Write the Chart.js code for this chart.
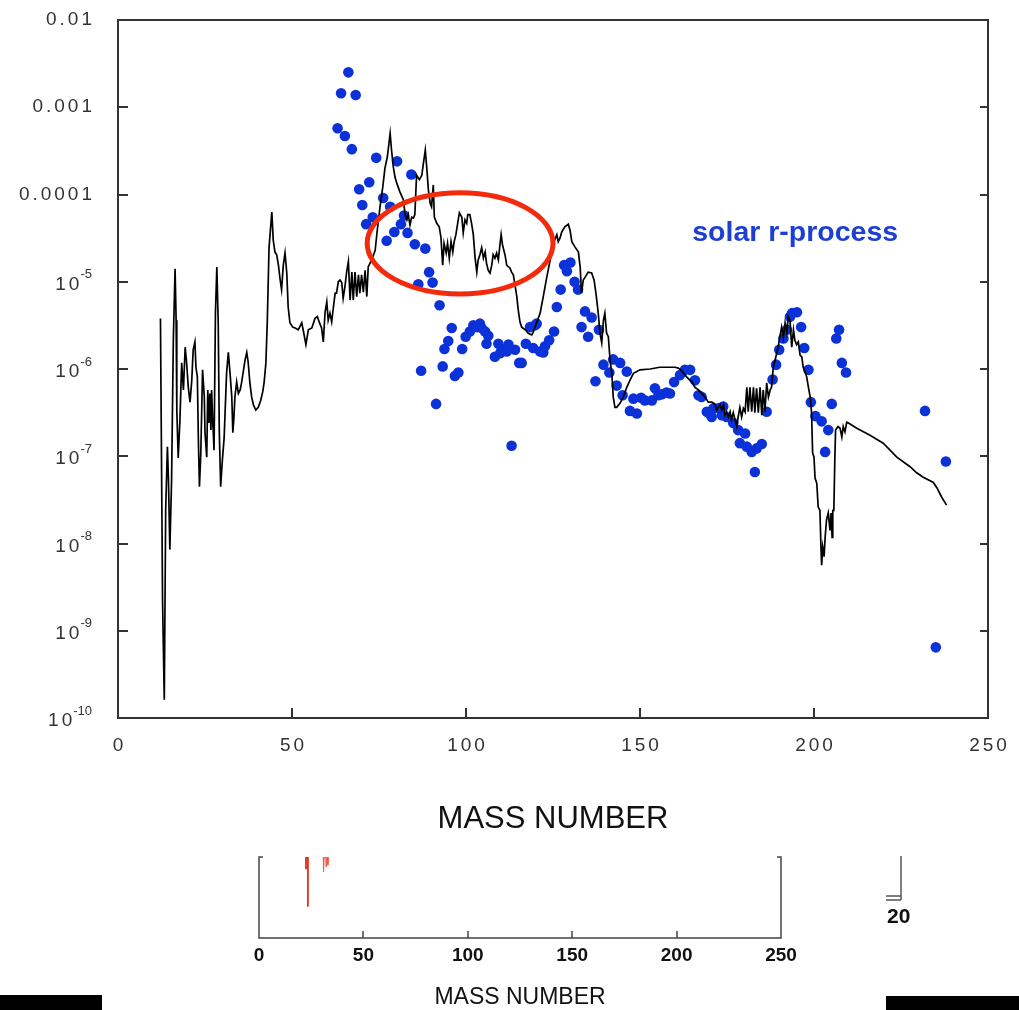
<!DOCTYPE html>
<html>
<head>
<meta charset="utf-8">
<script src="https://cdn.jsdelivr.net/npm/chart.js@4.4.1/dist/chart.umd.min.js"></script>
<style>
  body { margin:0; background:#fff; width:1019px; height:1010px; overflow:hidden; position:relative; }
  canvas { position:absolute; left:0; }
</style>
</head>
<body>
<canvas id="main" width="1019" height="840" style="top:0"></canvas>
<canvas id="mini" width="1019" height="170" style="top:840px"></canvas>
<script>
// ---------- DATA ----------
const yTickValues = [1e-2, 1e-3, 1e-4, 1e-5, 1e-6, 1e-7, 1e-8, 1e-9, 1e-10];
const yTickBase   = ['0.01', '0.001', '0.0001', '10', '10', '10', '10', '10', '10'];
const yTickExp    = ['', '', '', '-5', '-6', '-7', '-8', '-9', '-10'];
const xTickValues = [0, 50, 100, 150, 200, 250];
const xTitle = 'MASS NUMBER';
const seriesLabel = 'solar r-process';

// model abundance curve: [mass number, log10 abundance]
const lineModel = [
[12.2,-5.42],[12.4,-6.49],[12.8,-8.65],[13.3,-9.79],[13.7,-7.62],[14.2,-6.89],[14.5,-7.27],[14.9,-8.07],[15.4,-7.27],[15.9,-5.67],
[16.4,-4.85],[16.7,-5.44],[16.9,-6.47],[17.3,-7.02],[17.8,-6.58],[18.3,-5.93],[18.8,-6.24],[19.3,-5.75],[19.7,-5.92],[20.2,-6.21],
[20.7,-6.38],[21.2,-6.13],[21.6,-5.78],[22.1,-5.69],[22.4,-5.98],[22.8,-6.09],[23.1,-6.81],[23.4,-7.35],[23.8,-6.96],[24.3,-6.01],
[24.8,-6.32],[25.0,-6.73],[25.5,-7.01],[25.8,-6.24],[26.1,-6.62],[26.4,-6.28],[26.7,-6.70],[26.9,-6.24],[27.2,-6.58],[27.6,-6.93],
[28.0,-5.36],[28.4,-4.83],[28.8,-5.47],[29.1,-6.70],[29.5,-7.35],[30.0,-7.04],[30.5,-6.79],[30.8,-6.47],[31.2,-6.05],[31.7,-5.81],
[32.2,-6.05],[32.7,-6.32],[33.0,-6.73],[33.3,-6.56],[33.6,-6.32],[34.1,-6.15],[34.6,-6.28],[35.1,-6.24],[35.5,-6.16],[36.0,-6.03],
[36.5,-5.90],[37.0,-5.81],[37.4,-5.92],[37.9,-6.16],[38.4,-6.32],[38.9,-6.41],[39.6,-6.47],[40.3,-6.44],[41.0,-6.36],[41.6,-6.26],
[42.0,-6.15],[42.5,-5.93],[42.9,-5.46],[43.4,-4.61],[44.2,-4.20],[44.6,-4.52],[45.1,-4.66],[45.6,-4.69],[46.1,-4.81],[46.6,-4.98],
[47.0,-5.09],[47.5,-4.81],[48.0,-4.67],[48.5,-4.90],[48.9,-5.29],[49.4,-5.47],[50.2,-5.52],[50.9,-5.53],[51.8,-5.55],[52.8,-5.47],
[53.2,-5.55],[54.0,-5.72],[54.7,-5.55],[55.7,-5.53],[56.6,-5.42],[57.3,-5.40],[57.8,-5.46],[58.5,-5.53],[59.0,-5.69],[59.5,-5.35],
[60.0,-5.23],[60.4,-5.44],[60.9,-5.36],[61.4,-5.46],[61.9,-5.29],[62.4,-5.13],[62.8,-5.13],[63.3,-5.00],[63.8,-4.98],[64.3,-5.01],
[64.7,-5.19],[65.2,-5.06],[65.7,-4.89],[66.2,-4.77],[66.7,-5.21],[67.2,-4.89],[67.6,-5.21],[68.1,-4.89],[68.6,-5.17],[69.1,-4.92],
[69.5,-5.13],[70.0,-4.92],[70.5,-5.12],[71.0,-4.87],[71.5,-5.17],[71.9,-4.83],[72.4,-4.79],[72.9,-4.75],[73.9,-4.64],[74.5,-4.41],
[75.3,-4.14],[76.1,-3.91],[76.7,-3.70],[77.4,-3.57],[77.9,-3.40],[78.2,-3.30],[78.6,-3.49],[79.1,-3.68],[79.6,-3.80],[80.1,-3.87],
[81.0,-3.97],[82.0,-4.06],[82.5,-4.23],[83.0,-4.29],[83.4,-4.23],[83.9,-4.35],[84.4,-4.26],[84.9,-4.27],[85.3,-4.23],[85.8,-3.78],
[86.6,-3.83],[87.3,-3.78],[87.7,-3.66],[88.3,-3.49],[88.7,-3.68],[89.2,-3.95],[89.7,-4.10],[90.1,-4.14],[90.6,-3.89],[90.9,-4.26],
[91.6,-4.33],[92.3,-4.37],[92.8,-4.49],[93.3,-4.81],[93.7,-4.56],[94.3,-4.67],[94.7,-4.56],[95.2,-4.73],[95.7,-4.54],[96.2,-4.66],
[96.6,-4.54],[97.1,-4.46],[97.6,-4.33],[98.1,-4.21],[98.8,-4.26],[99.2,-4.44],[99.7,-4.29],[100.2,-4.33],[100.5,-4.23],[101.1,-4.23],
[101.6,-4.33],[102.1,-4.46],[102.6,-4.72],[103.1,-4.89],[103.5,-4.75],[104.0,-4.69],[104.5,-4.61],[105.0,-4.73],[105.5,-4.66],[105.9,-4.79],
[106.4,-4.87],[106.9,-4.90],[107.4,-4.81],[107.8,-4.69],[108.3,-4.73],[108.8,-4.67],[109.3,-4.75],[109.8,-4.56],[110.1,-4.46],[110.5,-4.58],
[111.2,-4.69],[111.7,-4.81],[112.2,-4.83],[112.6,-4.84],[113.1,-4.89],[113.6,-4.92],[114.1,-5.04],[114.6,-5.17],[115.0,-5.32],[115.5,-5.46],
[116.0,-5.52],[117.0,-5.55],[117.9,-5.59],[118.9,-5.61],[119.3,-5.58],[120.3,-5.47],[121.3,-5.36],[122.2,-5.17],[123.2,-4.95],[124.1,-4.77],
[125.1,-4.56],[126.1,-4.46],[126.5,-4.54],[127.0,-4.50],[127.5,-4.43],[128.4,-4.37],[129.4,-4.34],[129.9,-4.41],[130.4,-4.54],[131.3,-4.60],
[132.3,-4.66],[132.8,-4.83],[133.2,-5.13],[133.7,-4.98],[134.2,-4.95],[135.1,-4.89],[136.1,-4.90],[136.8,-4.98],[137.4,-5.15],[138.0,-5.36],
[138.5,-5.59],[139.0,-5.70],[139.5,-5.44],[139.9,-5.36],[140.4,-5.59],[140.9,-5.63],[141.4,-5.90],[141.9,-6.05],[142.3,-6.32],[142.8,-6.44],
[143.3,-6.44],[144.3,-6.39],[145.2,-6.32],[146.2,-6.21],[147.1,-6.13],[148.1,-6.05],[149.1,-6.03],[150.0,-6.01],[152.9,-6.00],[155.7,-5.98],
[158.6,-5.98],[160.1,-5.98],[161.0,-5.99],[162.0,-6.02],[163.4,-6.09],[164.9,-6.15],[165.8,-6.21],[166.8,-6.24],[167.7,-6.28],[168.7,-6.32],
[169.6,-6.38],[170.6,-6.38],[171.1,-6.39],[171.6,-6.41],[172.0,-6.47],[173.0,-6.41],[173.5,-6.47],[174.0,-6.41],[174.4,-6.53],[174.9,-6.49],
[175.4,-6.55],[175.9,-6.49],[176.3,-6.58],[176.8,-6.50],[177.3,-6.58],[177.8,-6.66],[178.2,-6.55],[178.7,-6.44],[179.2,-6.55],[179.7,-6.45],
[180.2,-6.49],[180.7,-6.21],[181.1,-6.49],[181.6,-6.21],[182.1,-6.49],[182.6,-6.21],[183.0,-6.50],[183.5,-6.22],[184.0,-6.50],[184.5,-6.21],
[185.0,-6.53],[185.4,-6.24],[185.9,-6.49],[186.4,-6.16],[186.9,-6.32],[187.4,-6.24],[187.8,-6.21],[188.3,-5.98],[188.8,-5.90],[189.3,-5.82],
[189.7,-5.75],[190.2,-5.63],[190.7,-5.52],[191.2,-5.64],[191.7,-5.47],[192.2,-5.58],[192.6,-5.40],[193.1,-5.44],[193.6,-5.75],[194.1,-5.55],
[194.5,-5.67],[195.0,-5.72],[195.5,-5.69],[196.0,-5.84],[196.5,-5.86],[196.9,-5.98],[197.4,-6.03],[197.9,-6.09],[198.4,-6.21],[198.9,-6.32],
[199.3,-6.50],[199.6,-6.96],[200.0,-7.01],[200.3,-7.25],[200.8,-7.31],[201.2,-7.58],[201.7,-7.62],[202.0,-8.04],[202.2,-8.25],[202.5,-8.04],
[202.9,-8.15],[203.2,-7.93],[203.6,-7.73],[204.1,-7.65],[204.6,-7.85],[204.9,-7.65],[205.2,-7.93],[205.4,-7.62],[205.7,-7.62],[206.0,-7.01],
[206.2,-6.70],[206.9,-6.66],[207.5,-6.68],[208.0,-6.78],[208.4,-6.66],[208.9,-6.72],[209.4,-6.61],[209.9,-6.62],[212.3,-6.68],[216.1,-6.76],
[219.9,-6.85],[223.8,-7.01],[227.6,-7.12],[229.5,-7.19],[231.4,-7.24],[234.3,-7.30],[235.3,-7.36],[236.7,-7.47],[238.1,-7.56]
];

// solar r-process abundances: [mass number, log10 abundance]
const solarR = [
[63.1,-3.24],[64.1,-2.84],[65.2,-3.33],[66.2,-2.60],[67.2,-3.48],[68.3,-2.86],[69.3,-3.94],[70.2,-4.12],[71.3,-4.34],[72.2,-3.86],
[73.2,-4.26],[74.2,-3.58],[76.2,-4.04],[77.2,-4.53],[78.2,-4.14],[79.4,-4.43],[80.2,-3.62],[81.3,-4.34],[82.2,-4.24],[83.2,-4.44],
[84.3,-3.77],[85.3,-4.57],[86.3,-5.03],[87.1,-6.02],[88.3,-4.62],[89.4,-4.89],[90.4,-5.01],[91.4,-6.40],[92.4,-5.27],[93.3,-5.97],
[93.8,-5.77],[94.9,-5.68],[95.9,-5.53],[96.8,-6.08],[97.8,-6.04],[98.9,-5.77],[99.9,-5.63],[101.1,-5.57],[102.1,-5.50],[103.1,-5.52],
[104.0,-5.48],[104.5,-5.53],[105.5,-5.57],[105.9,-5.71],[106.4,-5.62],[108.3,-5.86],[109.3,-5.71],[109.8,-5.82],[110.3,-5.78],[111.7,-5.80],
[112.2,-5.72],[113.1,-6.88],[114.1,-5.78],[115.3,-5.93],[116.0,-5.93],[117.2,-5.71],[118.4,-5.52],[119.3,-5.76],[119.8,-5.50],[120.3,-5.48],
[121.3,-5.80],[122.2,-5.81],[122.7,-5.74],[123.9,-5.67],[125.3,-5.57],[126.1,-5.29],[127.2,-5.09],[128.2,-4.81],[129.0,-4.88],[130.0,-4.78],
[131.2,-5.00],[132.2,-5.09],[133.2,-5.52],[134.2,-5.34],[135.1,-5.63],[136.1,-5.41],[137.2,-6.14],[138.2,-5.55],[139.5,-5.95],[141.2,-6.04],
[142.3,-5.89],[143.3,-6.19],[144.3,-5.93],[145.0,-6.30],[146.2,-6.03],[147.1,-6.48],[148.1,-6.34],[149.1,-6.51],[150.3,-6.33],[151.4,-6.36],
[153.4,-6.36],[154.3,-6.22],[155.3,-6.30],[156.3,-6.29],[157.6,-6.27],[158.6,-6.28],[159.8,-6.15],[161.5,-6.07],[162.9,-6.01],[164.4,-6.01],
[165.8,-6.13],[166.8,-6.30],[167.7,-6.32],[169.2,-6.49],[170.1,-6.51],[170.6,-6.55],[171.1,-6.45],[172.5,-6.45],[173.5,-6.53],[173.9,-6.43],
[174.9,-6.55],[176.8,-6.62],[178.2,-6.70],[178.7,-6.85],[180.2,-6.74],[180.7,-6.89],[182.1,-6.95],[183.0,-7.18],[183.5,-6.91],[185.0,-6.86],
[186.4,-6.49],[188.1,-6.12],[189.1,-5.95],[190.0,-5.78],[191.2,-5.65],[192.2,-5.55],[193.1,-5.40],[193.7,-5.36],[195.1,-5.35],[196.3,-5.52],
[197.2,-5.76],[198.4,-6.01],[199.1,-6.38],[200.4,-6.54],[202.2,-6.60],[203.2,-6.95],[204.1,-6.70],[205.1,-6.40],[206.4,-5.65],[207.2,-5.55],
[208.0,-5.93],[209.2,-6.04],[231.9,-6.48],[235.0,-9.19],[237.9,-7.06]
];

// highlighted region (red ellipse), in data units
const markCenterMass = 98.3;
const markHalfMass = 26.7;
const markTopLog = -3.98;
const markBottomLog = -5.14;
const labelMass = 165;
const labelLog = -4.44;

// lower small panel
const miniTickValues = [0, 50, 100, 150, 200, 250];
const miniRedA = [[22.4,100],[22.5,85],[22.6,100],[23.3,100],[23.4,39],[23.5,100]];
const miniRedB = [[30.8,100],[30.9,82],[31.2,100],[32.0,100],[32.1,88],[32.4,100],[32.9,100],[33.0,90],[33.1,100]];
const sideLabel = '20';

// ---------- MAIN CHART ----------
const FONT = '"Liberation Sans", Arial, sans-serif';
const mainDecor = {
  id: 'mainDecor',
  afterDatasetsDraw(chart) {
    const {ctx, scales: {x, y}} = chart;
    const cx = x.getPixelForValue(markCenterMass);
    const rx = x.getPixelForValue(markCenterMass + markHalfMass) - cx;
    const t = y.getPixelForValue(Math.pow(10, markTopLog));
    const b = y.getPixelForValue(Math.pow(10, markBottomLog));
    ctx.save();
    ctx.strokeStyle = '#f42a0c';
    ctx.lineWidth = 5;
    ctx.beginPath();
    ctx.ellipse(cx, (t + b) / 2, rx, (b - t) / 2, 0, 0, Math.PI * 2);
    ctx.stroke();
    ctx.restore();
  },
  afterDraw(chart) {
    const {ctx, chartArea: {left, right, top, bottom}, scales: {x, y}} = chart;
    ctx.save();
    ctx.strokeStyle = '#333';
    ctx.lineWidth = 2;
    ctx.strokeRect(left, top, right - left, bottom - top);
    ctx.beginPath();
    yTickValues.forEach(v => {
      const py = Math.round(y.getPixelForValue(v));
      ctx.moveTo(left, py); ctx.lineTo(left + 10, py);
      ctx.moveTo(right, py); ctx.lineTo(right - 8, py);
    });
    xTickValues.forEach(v => {
      const px = Math.round(x.getPixelForValue(v));
      ctx.moveTo(px, bottom); ctx.lineTo(px, bottom - 10);
    });
    ctx.stroke();

    // y labels
    ctx.fillStyle = '#333';
    ctx.textBaseline = 'middle';
    ctx.textAlign = 'right';
    const labelRight = 92;
    yTickValues.forEach((v, i) => {
      const py = y.getPixelForValue(v);
      if (yTickExp[i] === '') {
        ctx.font = '19px ' + FONT;
        ctx.letterSpacing = '3px';
        ctx.fillText(yTickBase[i], labelRight + 3, py);
      } else {
        ctx.font = '13px ' + FONT;
        ctx.letterSpacing = '0px';
        const ew = ctx.measureText(yTickExp[i]).width;
        ctx.fillText(yTickExp[i], labelRight, py - 7);
        ctx.font = '19px ' + FONT;
        ctx.letterSpacing = '3px';
        ctx.fillText(yTickBase[i], labelRight - ew + 2, py + 3);
      }
    });
    // x labels
    ctx.textAlign = 'center';
    ctx.font = '19px ' + FONT;
    ctx.letterSpacing = '3px';
    xTickValues.forEach(v => {
      ctx.fillText(String(v), x.getPixelForValue(v) + 1.5, bottom + 28);
    });
    // axis title
    ctx.letterSpacing = '0px';
    ctx.fillStyle = '#111';
    ctx.font = '31px ' + FONT;
    ctx.fillText(xTitle, (left + right) / 2, 819);
    // series label
    ctx.textAlign = 'left';
    ctx.fillStyle = '#1d3fd6';
    ctx.font = 'bold 28.5px ' + FONT;
    ctx.fillText(seriesLabel, x.getPixelForValue(labelMass), y.getPixelForValue(Math.pow(10, labelLog)));
    ctx.restore();
  }
};

new Chart(document.getElementById('main'), {
  type: 'scatter',
  data: {
    datasets: [
      {
        label: 'model',
        data: lineModel.map(([a, l]) => ({x: a, y: Math.pow(10, l)})),
        showLine: true,
        borderColor: '#000',
        borderWidth: 1.7,
        pointRadius: 0,
        tension: 0,
        order: 1
      },
      {
        label: seriesLabel,
        data: solarR.map(([a, l]) => ({x: a, y: Math.pow(10, l)})),
        backgroundColor: '#0b31d9',
        borderWidth: 0,
        pointRadius: 5.3,
        order: 2
      }
    ]
  },
  options: {
    responsive: false,
    animation: false,
    layout: {padding: {left: 118, right: 31, top: 20, bottom: 122}},
    plugins: {legend: {display: false}, tooltip: {enabled: false}},
    scales: {
      x: {type: 'linear', min: 0, max: 250, display: false},
      y: {type: 'logarithmic', min: 1e-10, max: 1e-2, display: false}
    }
  },
  plugins: [mainDecor]
});

// ---------- MINI CHART ----------
const miniDecor = {
  id: 'miniDecor',
  afterDraw(chart) {
    const {ctx, chartArea: {left, right, top, bottom}, scales: {x}} = chart;
    ctx.save();
    ctx.strokeStyle = '#444';
    ctx.lineWidth = 1.5;
    ctx.beginPath();
    ctx.moveTo(left + 4, top); ctx.lineTo(left, top); ctx.lineTo(left, bottom); ctx.lineTo(right, bottom);
    ctx.lineTo(right, top); ctx.lineTo(right - 4, top);
    miniTickValues.forEach(v => {
      const px = Math.round(x.getPixelForValue(v));
      ctx.moveTo(px, bottom); ctx.lineTo(px, bottom - 7);
    });
    ctx.stroke();
    ctx.fillStyle = '#111';
    ctx.font = 'bold 19px ' + FONT;
    ctx.textAlign = 'center';
    ctx.textBaseline = 'middle';
    miniTickValues.forEach(v => ctx.fillText(String(v), x.getPixelForValue(v), bottom + 18));
    ctx.font = '23px ' + FONT;
    ctx.fillText(xTitle, (left + right) / 2, 158);

    // side mark with "20"
    ctx.strokeStyle = '#555';
    ctx.lineWidth = 1.5;
    ctx.beginPath();
    ctx.moveTo(901, 16); ctx.lineTo(901, 60);
    ctx.moveTo(886, 56); ctx.lineTo(901, 56);
    ctx.moveTo(886, 60); ctx.lineTo(901, 60);
    ctx.stroke();
    ctx.textAlign = 'left';
    ctx.font = 'bold 21px ' + FONT;
    ctx.fillText(sideLabel, 887, 77);

    // black bars
    ctx.fillStyle = '#000';
    ctx.fillRect(0, 155, 102, 15);
    ctx.fillRect(886, 156, 133, 14);
    ctx.restore();
  }
};

new Chart(document.getElementById('mini'), {
  type: 'scatter',
  data: {
    datasets: [
      {
        data: miniRedA.map(([a, v]) => ({x: a, y: v})),
        showLine: true, borderColor: '#e8301a', borderWidth: 1, pointRadius: 0, fill: false
      },
      {
        data: miniRedB.map(([a, v]) => ({x: a, y: v})),
        showLine: true, borderColor: '#ee5a44', borderWidth: 1, pointRadius: 0,
        fill: 'end', backgroundColor: 'rgba(240,110,90,0.45)'
      }
    ]
  },
  options: {
    responsive: false,
    animation: false,
    layout: {padding: {left: 259, right: 238, top: 17, bottom: 72}},
    plugins: {legend: {display: false}, tooltip: {enabled: false}},
    scales: {
      x: {type: 'linear', min: 0, max: 250, display: false},
      y: {type: 'linear', min: 0, max: 100, display: false}
    }
  },
  plugins: [miniDecor]
});
</script>
</body>
</html>
